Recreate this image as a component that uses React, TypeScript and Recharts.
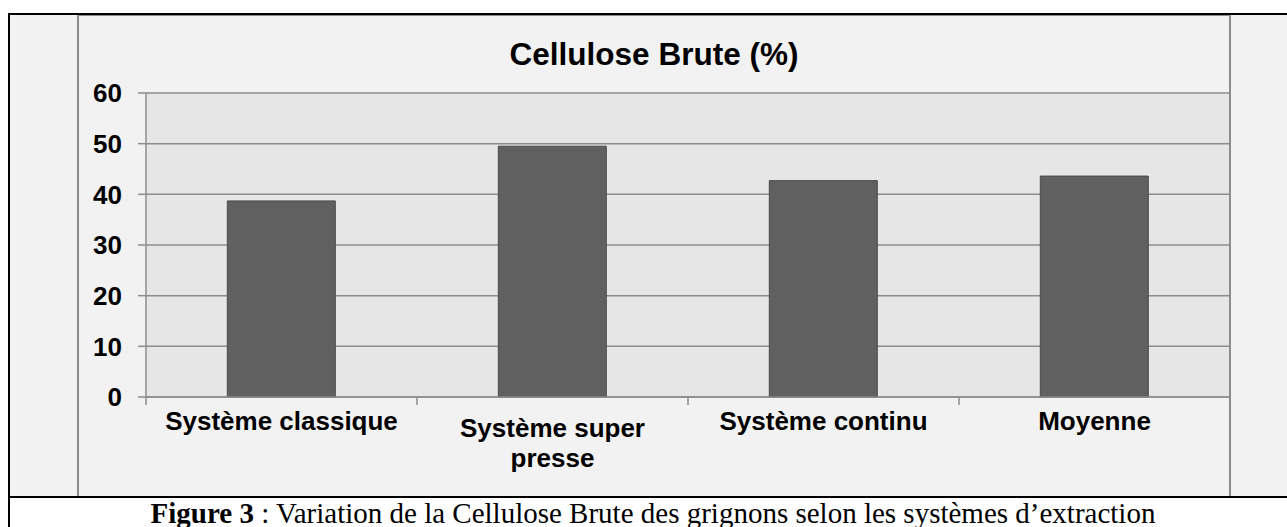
import React from 'react';
import { BarChart, Bar, XAxis, YAxis, CartesianGrid } from 'recharts';

const categories = ['Système classique', 'Système super presse', 'Système continu', 'Moyenne'];
const celluloseValues = [38.7, 49.5, 42.7, 43.6];
const yTicks = [0, 10, 20, 30, 40, 50, 60];
const categoryLabelLines = [['Système classique'], ['Système super', 'presse'], ['Système continu'], ['Moyenne']];
const chartTitle = 'Cellulose Brute (%)';
const captionBold = 'Figure 3';
const captionRest = ' : Variation de la Cellulose Brute des grignons selon les systèmes d\u2019extraction';

const data = categories.map((c, i) => ({ category: c, value: celluloseValues[i] }));

const CHART_W = 1152;
const CHART_H = 482;
const Y_AXIS_W = 68;
const PLOT_W = CHART_W - Y_AXIS_W;
const SANS = '"Liberation Sans", Arial, sans-serif';
const SERIF = '"Liberation Serif", "Times New Roman", serif';
const AXIS_GRAY = '#8c8c8c';

const CategoryTick = (props: any) => {
  const { x, y, index } = props;
  const band = PLOT_W / categories.length;
  const lines = categoryLabelLines[index] || [String(props.payload?.value ?? '')];
  const shift = (lines.length - 1) * 7;
  return (
    <g>
      <line x1={x + band / 2} x2={x + band / 2} y1={y} y2={y + 8} stroke={AXIS_GRAY} strokeWidth={1.5} />
      {index === 0 && (
        <line x1={x - band / 2} x2={x - band / 2} y1={y} y2={y + 8} stroke={AXIS_GRAY} strokeWidth={1.5} />
      )}
      <text textAnchor="middle" fontFamily={SANS} fontWeight="bold" fontSize={26} fill="#000">
        {lines.map((ln: string, i: number) => (
          <tspan key={i} x={x} y={y + 33 + shift + i * 30}>
            {ln}
          </tspan>
        ))}
      </text>
    </g>
  );
};

export default function App() {
  return (
    <div style={{ position: 'absolute', left: 0, top: 0, width: 1287, height: 527, background: '#ffffff', overflow: 'hidden' }}>
      <div style={{ position: 'absolute', left: 9, top: 14, width: 1278, height: 483, background: '#f2f2f2' }} />
      <div style={{ position: 'absolute', left: 78, top: 15, width: CHART_W, height: CHART_H }}>
        <BarChart
          width={CHART_W}
          height={CHART_H}
          data={data}
          margin={{ top: 78, right: 0, left: 0, bottom: 0 }}
          barCategoryGap="30%"
        >
          <CartesianGrid
            vertical={false}
            fill="#e6e6e6"
            fillOpacity={1}
            stroke={AXIS_GRAY}
            strokeWidth={1.5}
          />
          <XAxis
            dataKey="category"
            height={100}
            interval={0}
            tickSize={0}
            tickMargin={0}
            tickLine={false}
            axisLine={{ stroke: AXIS_GRAY, strokeWidth: 1.5 }}
            tick={<CategoryTick />}
          />
          <YAxis
            width={Y_AXIS_W}
            domain={[0, 60]}
            ticks={yTicks}
            interval={0}
            tickSize={8}
            tickMargin={16}
            axisLine={{ stroke: AXIS_GRAY, strokeWidth: 1.5 }}
            tickLine={{ stroke: AXIS_GRAY, strokeWidth: 1.5 }}
            tick={{ fill: '#000', fontSize: 26, fontWeight: 'bold', fontFamily: SANS }}
          />
          <Bar dataKey="value" fill="#606060" stroke="#4a4a4a" strokeWidth={1} isAnimationActive={false} />
        </BarChart>
      </div>
      <svg width={1287} height={527} style={{ position: 'absolute', left: 0, top: 0, pointerEvents: 'none' }}>
        <rect x={78} y={15} width={1152} height={482} fill="none" stroke={AXIS_GRAY} strokeWidth={2} />
        <line x1={8} x2={1287} y1={14} y2={14} stroke="#000" strokeWidth={2.2} />
        <line x1={9} x2={9} y1={13} y2={527} stroke="#000" strokeWidth={2} />
        <line x1={8} x2={1287} y1={497} y2={497} stroke="#000" strokeWidth={2} />
        <text x={654} y={65} textAnchor="middle" fontFamily={SANS} fontWeight="bold" fontSize={31.5} fill="#000">
          {chartTitle}
        </text>
        <text x={653} y={523} textAnchor="middle" fontFamily={SERIF} fontSize={29} fill="#000">
          <tspan fontWeight="bold">{captionBold}</tspan>
          <tspan>{captionRest}</tspan>
        </text>
      </svg>
    </div>
  );
}
